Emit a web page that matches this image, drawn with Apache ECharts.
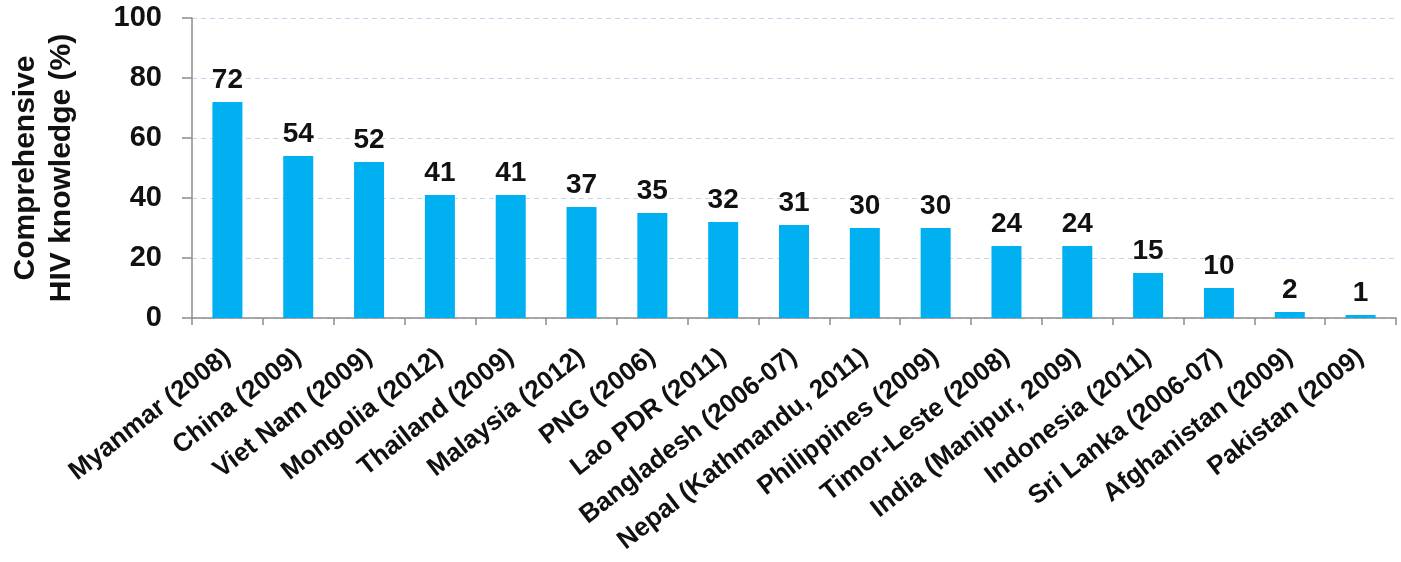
<!DOCTYPE html>
<html>
<head>
<meta charset="utf-8">
<script src="https://cdn.jsdelivr.net/npm/echarts@6/dist/echarts.min.js"></script>
<style>
html,body{margin:0;padding:0;background:#fff;}
#chart{width:1401px;height:562px;}
</style>
</head>
<body>
<div id="chart"></div>
<script>
const categories = ["Myanmar (2008)","China (2009)","Viet Nam (2009)","Mongolia (2012)","Thailand (2009)","Malaysia (2012)","PNG (2006)","Lao PDR (2011)","Bangladesh (2006-07)","Nepal (Kathmandu, 2011)","Philippines (2009)","Timor-Leste (2008)","India (Manipur, 2009)","Indonesia (2011)","Sri Lanka (2006-07)","Afghanistan (2009)","Pakistan (2009)"];
const values = [72,54,52,41,41,37,35,32,31,30,30,24,24,15,10,2,1];
const yTicks = [0,20,40,60,80,100];
const yTitle = "Comprehensive\nHIV knowledge (%)";

const FONT = "'Liberation Sans', Arial, sans-serif";
const chart = echarts.init(document.getElementById('chart'), null, {renderer:'canvas'});
chart.setOption({
  animation:false,
  backgroundColor:'#ffffff',
  grid:{left:188, right:5, top:18, bottom:244, containLabel:false},
  xAxis:{
    type:'category',
    data:categories,
    axisLine:{lineStyle:{color:'#8c8c8c', width:1.5}},
    axisTick:{show:true, length:7, lineStyle:{color:'#8c8c8c', width:1.5}},
    axisLabel:{rotate:38, margin:36, color:'#111', fontFamily:FONT, fontWeight:'bold', fontSize:26, interval:0}
  },
  yAxis:{
    type:'value',
    min:yTicks[0], max:yTicks[yTicks.length-1], interval:20,
    name:yTitle, nameLocation:'middle', nameRotate:90, nameGap:112,
    nameTextStyle:{color:'#111', fontFamily:FONT, fontWeight:'bold', fontSize:30, lineHeight:36, align:'center'},
    axisLine:{show:true, lineStyle:{color:'#8c8c8c', width:1.5}},
    axisTick:{show:true, length:10, lineStyle:{color:'#8c8c8c', width:1.5}},
    axisLabel:{margin:30, color:'#111', fontFamily:FONT, fontWeight:'bold', fontSize:29},
    splitLine:{show:true, lineStyle:{color:'#c5d5ee', type:[5,4], width:1.2}}
  },
  series:[{
    type:'bar',
    data:values,
    barWidth:30,
    itemStyle:{color:'#00b0f0'},
    label:{show:true, position:'top', distance:8, color:'#111', fontFamily:FONT, fontWeight:'bold', fontSize:28}
  }]
});
</script>
</body>
</html>
